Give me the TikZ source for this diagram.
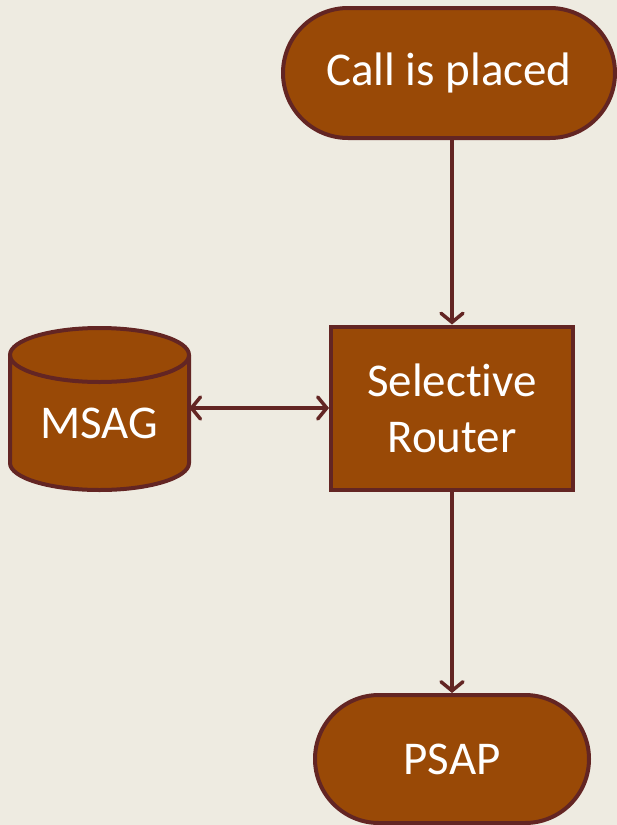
\documentclass[tikz,border=0pt]{standalone}
\usepackage{fontspec}
\setmainfont{Carlito}[Ligatures=NoCommon]
\usetikzlibrary{arrows.meta}
\definecolor{bgbeige}{HTML}{EEEBE1}
\definecolor{boxbrown}{HTML}{994906}
\definecolor{edgemaroon}{HTML}{632523}

\begin{document}
\begin{tikzpicture}[x=1pt,y=-1pt,
  box/.style={fill=boxbrown,draw=edgemaroon,line width=4pt,text=white,
    font=\fontsize{47}{56}\selectfont,align=center,inner sep=0pt},
  barb/.tip={Straight Barb[length=9pt,width=22pt,line cap=round]},
  link/.style={draw=edgemaroon,line width=3.5pt,-barb}]

%背景
\fill[bgbeige] (0,0) rectangle (617,825);
\useasboundingbox (0,0) rectangle (617,825);

%起点：椭圆角的框
\node[box,rounded corners=65pt,minimum width=332pt,minimum height=130pt]
  (call) at (449,73) {Call is placed};
%中间的矩形
\node[box,minimum width=242pt,minimum height=163pt]
  (router) at (452,408) {Selective\\Router};
%终点
\node[box,rounded corners=64pt,minimum width=274pt,minimum height=128pt]
  (psap) at (452,759) {PSAP};

%数据库：画一个圆柱
\def\rx{89.5}
\def\ry{27}
\fill[boxbrown] (10,355) -- (10,463) arc(180:360:\rx pt and \ry pt) -- (189,355) -- cycle;
\fill[boxbrown] (99.5,355) ellipse({\rx pt} and {\ry pt});
\draw[edgemaroon,line width=4pt] (10,355) -- (10,463) arc(180:360:\rx pt and \ry pt) -- (189,355);
\draw[edgemaroon,line width=4pt] (99.5,355) ellipse({\rx pt} and {\ry pt});
%文字放在圆柱下半部
\node[text=white,font=\fontsize{47}{56}\selectfont,minimum width=179pt,
  minimum height=163pt,inner sep=0pt,text height=60pt,text depth=0pt]
  (msag) at (99.5,408) {MSAG};

%连线
\draw[link] (call.south -| router.north) -- (router.north);
\draw[link] (router) -- (psap);
\draw[link,barb-barb] (msag) -- (router);

\end{tikzpicture}
\end{document}
